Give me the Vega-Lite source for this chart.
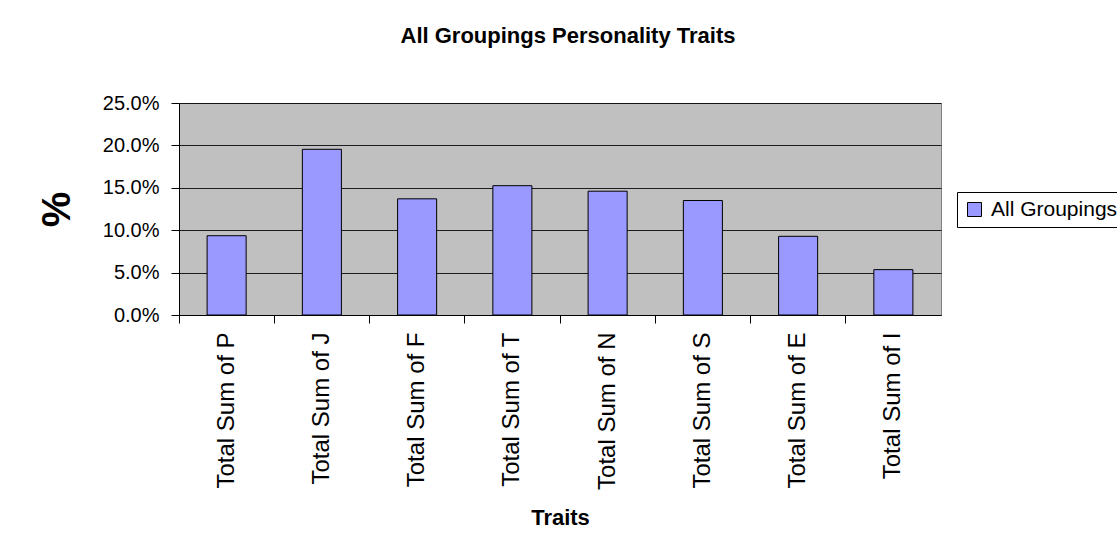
{
  "$schema": "https://vega.github.io/schema/vega-lite/v6.json",
  "width": 762,
  "height": 212,
  "autosize": {"type": "none"},
  "padding": {"left": 179, "top": 103, "right": 176, "bottom": 237},
  "background": "white",
  "title": {
    "text": "All Groupings Personality Traits",
    "font": "Liberation Sans",
    "fontSize": 22,
    "fontWeight": "bold",
    "color": "black",
    "offset": 45,
    "dx": 8
  },
  "data": {
    "values": [
      {"trait": "Total Sum of P", "value": 0.0935, "series": "All Groupings"},
      {"trait": "Total Sum of J", "value": 0.1954, "series": "All Groupings"},
      {"trait": "Total Sum of F", "value": 0.137, "series": "All Groupings"},
      {"trait": "Total Sum of T", "value": 0.1525, "series": "All Groupings"},
      {"trait": "Total Sum of N", "value": 0.146, "series": "All Groupings"},
      {"trait": "Total Sum of S", "value": 0.135, "series": "All Groupings"},
      {"trait": "Total Sum of E", "value": 0.0928, "series": "All Groupings"},
      {"trait": "Total Sum of I", "value": 0.0535, "series": "All Groupings"}
    ]
  },
  "mark": {"type": "bar", "stroke": "black", "strokeWidth": 1},
  "encoding": {
    "x": {
      "field": "trait",
      "type": "nominal",
      "sort": null,
      "scale": {"paddingInner": 0.59, "paddingOuter": 0.295},
      "axis": {
        "title": "Traits",
        "titleFont": "Liberation Sans",
        "titleFontSize": 22,
        "titleFontWeight": "bold",
        "titleColor": "black",
        "titlePadding": 18,
        "labelAngle": 270,
        "labelAlign": "right",
        "labelBaseline": "middle",
        "labelFont": "Liberation Sans",
        "labelFontSize": 24,
        "labelColor": "black",
        "labelPadding": 9,
        "bandPosition": -0.7195,
        "ticks": true,
        "tickSize": 8,
        "tickColor": "black",
        "domainColor": "black",
        "grid": false
      }
    },
    "y": {
      "field": "value",
      "type": "quantitative",
      "scale": {"domain": [0, 0.25], "nice": false},
      "axis": {
        "title": "%",
        "titleFont": "Liberation Sans",
        "titleFontSize": 40,
        "titleFontWeight": "bold",
        "titleColor": "black",
        "titlePadding": 25,
        "format": ".1%",
        "values": [0, 0.05, 0.1, 0.15, 0.2, 0.25],
        "labelFont": "Liberation Sans",
        "labelFontSize": 20,
        "labelColor": "black",
        "labelPadding": 12,
        "tickSize": 8,
        "tickColor": "black",
        "domainColor": "black",
        "grid": true,
        "gridColor": "black",
        "gridOpacity": 0.85,
        "gridWidth": 1
      }
    },
    "color": {
      "field": "series",
      "type": "nominal",
      "scale": {"range": ["#9999FF"]},
      "legend": {
        "title": null,
        "orient": "none",
        "legendX": 778,
        "legendY": 89,
        "symbolType": "square",
        "symbolSize": 196,
        "symbolStrokeColor": "black",
        "symbolStrokeWidth": 1,
        "symbolOpacity": 1,
        "labelFont": "Liberation Sans",
        "labelFontSize": 21,
        "labelColor": "black",
        "labelOffset": 6,
        "strokeColor": "black",
        "fillColor": "white",
        "padding": 7
      }
    }
  },
  "config": {
    "view": {"fill": "#C0C0C0", "stroke": "#808080", "strokeWidth": 1}
  }
}
